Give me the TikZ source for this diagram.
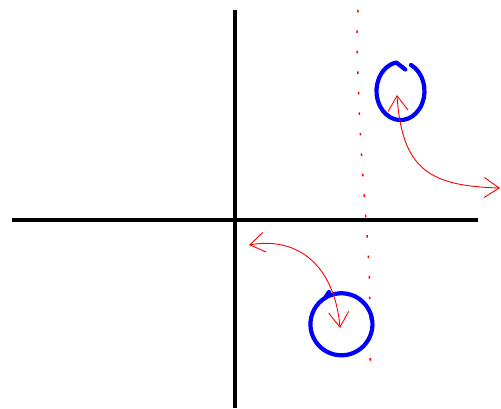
\documentclass[tikz,border=0pt]{standalone}
\usetikzlibrary{arrows.meta, calc}
\begin{document}
\begin{tikzpicture}[x=1pt, y=1pt]
    \tikzset{
        axisline/.style={line width=3.2pt, black},
        penring/.style={line width=4.2pt, blue, line cap=round, line join=round},
        penarrow/.style={red, line width=0.9pt,
            {Straight Barb[length=15pt, width=20pt]}-{Straight Barb[length=15pt, width=20pt]}},
        pendots/.style={red, line width=1.5pt, dash pattern=on 2.5pt off 18pt}
    }
    \useasboundingbox (0,0) rectangle (501,408);
    % axes
    \coordinate (xleft) at (12,188);
    \coordinate (xright) at (478,188);
    \coordinate (ytop) at (235,398);
    \coordinate (ybottom) at (235,0);
    \draw[axisline] (xleft) -- (xright);
    \draw[axisline] (ytop) -- (ybottom);
    % dotted guide
    \draw[pendots] plot[smooth] coordinates {(358,398) (357,370) (358,330) (360,280)
        (363,230) (366,188) (369,140) (370,90) (370,40)};
    % rings
    \draw[penring] (411,343) arc[start angle=64, end angle=-260, x radius=24, y radius=29]
        -- ++(9,-7);
    \draw[penring] (329,116) -- (325,110) arc[start angle=122, end angle=-240, x radius=31, y radius=31];
    % arrows
    \coordinate (upc) at (397,313);
    \coordinate (upend) at (500,220);
    \coordinate (lowc) at (340,80);
    \coordinate (lowend) at (249,163);
    \draw[penarrow] (upc) .. controls (402,238) and (430,222) .. (upend);
    \draw[penarrow] (lowend) .. controls (300,172) and (335,140) .. (lowc);
\end{tikzpicture}
\end{document}
